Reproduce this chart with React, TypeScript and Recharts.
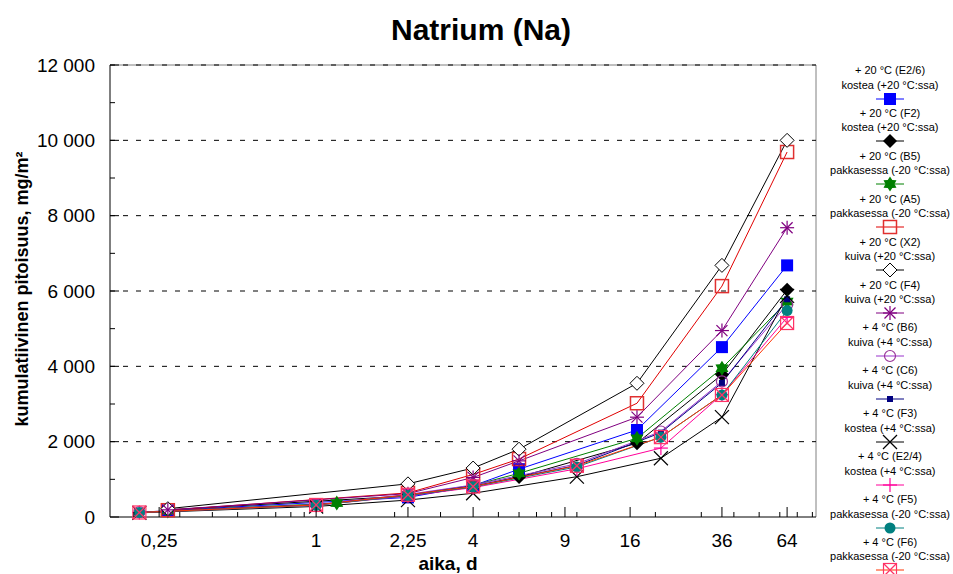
import { LineChart, Line, XAxis, YAxis, ReferenceLine } from "recharts";

// aikapisteet (d)
const timesA = [0.27, 2.25, 4, 6, 17, 36, 64];
const timesB5 = [0.27, 1.2, 2.25, 4, 6, 17, 36, 64];
const timesB = [0.21, 1, 2.25, 4, 10, 21, 36, 64];

// kumulatiivinen pitoisuus, mg/m2
const valE26 = [170, 520, 830, 1270, 2310, 4510, 6680];
const valF2 = [190, 560, 800, 1060, 1960, 3780, 6030];
const valB5 = [160, 370, 580, 840, 1160, 2090, 3950, 5720];
const valA5 = [180, 640, 1130, 1540, 3020, 6130, 9690];
const valX2 = [220, 880, 1300, 1800, 3550, 6680, 10000];
const valF4 = [190, 620, 1050, 1490, 2650, 4950, 7680];
const valB6 = [130, 330, 600, 850, 1410, 2270, 3600, 5640];
const valC6 = [130, 320, 580, 820, 1370, 2240, 3560, 5780];
const valF3 = [110, 280, 450, 630, 1070, 1560, 2650, 5870];
const valE24 = [120, 310, 560, 780, 1280, 1830, 3250, 5300];
const valF5 = [120, 310, 570, 800, 1330, 2120, 3240, 5480];
const valF6 = [120, 320, 590, 810, 1360, 2120, 3240, 5150];

const seriesTitles = [
  "+ 20 °C (E2/6)", "+ 20 °C (F2)", "+ 20 °C (B5)", "+ 20 °C (A5)",
  "+ 20 °C (X2)", "+ 20 °C (F4)", "+ 4 °C (B6)", "+ 4 °C (C6)",
  "+ 4 °C (F3)", "+ 4 °C (E2/4)", "+ 4 °C (F5)", "+ 4 °C (F6)",
];
const seriesConds = [
  "kostea (+20 °C:ssa)", "kostea (+20 °C:ssa)", "pakkasessa (-20 °C:ssa)", "pakkasessa (-20 °C:ssa)",
  "kuiva (+20 °C:ssa)", "kuiva (+20 °C:ssa)", "kuiva (+4 °C:ssa)", "kuiva (+4 °C:ssa)",
  "kostea (+4 °C:ssa)", "kostea (+4 °C:ssa)", "pakkasessa (-20 °C:ssa)", "pakkasessa (-20 °C:ssa)",
];

const xMajor = [0.25, 1, 2.25, 4, 9, 16, 36, 64];
const xMinor = [0.2, 0.3, 0.4, 0.5, 0.6, 0.7, 0.8, 0.9, 2, 3, 5, 6, 7, 8, 10, 20, 30, 40, 50, 60, 70, 80];
const yTicks = [0, 1000, 2000, 3000, 4000, 5000, 6000, 7000, 8000, 9000, 10000, 11000, 12000];
const gridValues = [2000, 4000, 6000, 8000, 10000, 12000];

const X_MIN = 0.162;
const X_MAX = 82.6;

const FONT = "'Liberation Sans', Arial, sans-serif";

const toPoints = (times: number[], vals: number[]) => times.map((t, i) => ({ t, v: vals[i] }));

const series = [
  { data: toPoints(timesA, valE26), color: "#0000ff", mark: "#0000ff", shape: "squareFilled" },
  { data: toPoints(timesA, valF2), color: "#000000", mark: "#000000", shape: "diamondFilled" },
  { data: toPoints(timesB5, valB5), color: "#008000", mark: "#008000", shape: "star" },
  { data: toPoints(timesA, valA5), color: "#e00000", mark: "#e03030", shape: "squareOpen" },
  { data: toPoints(timesA, valX2), color: "#000000", mark: "#000000", shape: "diamondOpen" },
  { data: toPoints(timesA, valF4), color: "#800080", mark: "#800080", shape: "asterisk" },
  { data: toPoints(timesB, valB6), color: "#9933cc", mark: "#993399", shape: "circleOpen" },
  { data: toPoints(timesB, valC6), color: "#000080", mark: "#000080", shape: "smallSquare" },
  { data: toPoints(timesB, valF3), color: "#000000", mark: "#000000", shape: "cross" },
  { data: toPoints(timesB, valE24), color: "#ff0099", mark: "#ff0099", shape: "plus" },
  { data: toPoints(timesB, valF5), color: "#008080", mark: "#008080", shape: "circleFilled" },
  { data: toPoints(timesB, valF6), color: "#ff3300", mark: "#ff3366", shape: "boxX" },
];

const Marker = ({ shape, cx, cy, color }: { shape: string; cx: number; cy: number; color: string }) => {
  switch (shape) {
    case "squareFilled":
      return <rect x={cx - 6} y={cy - 6} width={12} height={12} fill={color} />;
    case "diamondFilled":
      return <polygon points={`${cx},${cy - 7} ${cx + 7},${cy} ${cx},${cy + 7} ${cx - 7},${cy}`} fill={color} />;
    case "diamondOpen":
      return <polygon points={`${cx},${cy - 7} ${cx + 7},${cy} ${cx},${cy + 7} ${cx - 7},${cy}`} fill="#fff" stroke={color} strokeWidth={1} />;
    case "squareOpen":
      return <rect x={cx - 6.5} y={cy - 6.5} width={13} height={13} fill="none" stroke={color} strokeWidth={1.5} />;
    case "star": {
      const pts: string[] = [];
      for (let i = 0; i < 12; i++) {
        const r = i % 2 === 0 ? 7.5 : 4.5;
        const a = (Math.PI / 6) * i - Math.PI / 2;
        pts.push(`${cx + r * Math.cos(a)},${cy + r * Math.sin(a)}`);
      }
      return <polygon points={pts.join(" ")} fill={color} />;
    }
    case "asterisk":
      return (
        <g stroke={color} strokeWidth={1.2}>
          <line x1={cx} y1={cy - 7} x2={cx} y2={cy + 7} />
          <line x1={cx - 7} y1={cy} x2={cx + 7} y2={cy} />
          <line x1={cx - 5.5} y1={cy - 5.5} x2={cx + 5.5} y2={cy + 5.5} />
          <line x1={cx - 5.5} y1={cy + 5.5} x2={cx + 5.5} y2={cy - 5.5} />
        </g>
      );
    case "circleOpen":
      return <circle cx={cx} cy={cy} r={5.5} fill="none" stroke={color} strokeWidth={1.2} />;
    case "smallSquare":
      return <rect x={cx - 3} y={cy - 3} width={6} height={6} fill={color} />;
    case "cross":
      return (
        <g stroke={color} strokeWidth={1.2}>
          <line x1={cx - 7} y1={cy - 7} x2={cx + 7} y2={cy + 7} />
          <line x1={cx - 7} y1={cy + 7} x2={cx + 7} y2={cy - 7} />
        </g>
      );
    case "plus":
      return (
        <g stroke={color} strokeWidth={1.2}>
          <line x1={cx} y1={cy - 7} x2={cx} y2={cy + 7} />
          <line x1={cx - 7} y1={cy} x2={cx + 7} y2={cy} />
        </g>
      );
    case "circleFilled":
      return <circle cx={cx} cy={cy} r={5.5} fill={color} />;
    case "boxX":
      return (
        <g stroke={color} strokeWidth={1.2} fill="none">
          <rect x={cx - 6.5} y={cy - 6.5} width={13} height={13} />
          <line x1={cx - 6.5} y1={cy - 6.5} x2={cx + 6.5} y2={cy + 6.5} />
          <line x1={cx - 6.5} y1={cy + 6.5} x2={cx + 6.5} y2={cy - 6.5} />
        </g>
      );
    default:
      return null;
  }
};

const fmtY = (v: number) => String(v).replace(/\B(?=(\d{3})+(?!\d))/g, " ");

const XTick = (props: any) => {
  const { x, y, payload } = props;
  const major = xMajor.includes(payload.value);
  return (
    <g>
      <line x1={x} x2={x} y1={y} y2={y - (major ? 10 : 5)} stroke="#000" />
      {major && (
        <text x={x} y={y + 23} textAnchor="middle" dominantBaseline="central" fontSize={19} fontFamily={FONT} fill="#000">
          {String(payload.value).replace(".", ",")}
        </text>
      )}
    </g>
  );
};

const YTick = (props: any) => {
  const { x, y, payload } = props;
  const major = payload.value % 2000 === 0;
  return (
    <g>
      <line x1={x} x2={x + (major ? 9 : 5)} y1={y} y2={y} stroke="#000" />
      {major && (
        <text x={x - 15} y={y} textAnchor="end" dominantBaseline="central" fontSize={19} fontFamily={FONT} fill="#000">
          {fmtY(payload.value)}
        </text>
      )}
    </g>
  );
};

const LEGEND_TOP = 70;
const LEGEND_STEP = 42.9;
const LEGEND_CX = 890;

const App = () => {
  return (
    <div style={{ position: "absolute", left: 0, top: 0, width: 953, height: 574, background: "#fff", fontFamily: FONT }}>
      <LineChart width={953} height={574} margin={{ top: 65, right: 137, bottom: 17, left: 10 }}>
        <XAxis
          dataKey="t"
          type="number"
          scale="log"
          domain={[X_MIN, X_MAX]}
          allowDataOverflow
          ticks={[...xMajor, ...xMinor].sort((a, b) => a - b)}
          interval={0}
          tick={<XTick />}
          tickLine={false}
          tickSize={0}
          tickMargin={0}
          height={40}
          axisLine={{ stroke: "#000" }}
        />
        <YAxis
          type="number"
          domain={[0, 12000]}
          ticks={yTicks}
          interval={0}
          tick={<YTick />}
          tickLine={false}
          tickSize={0}
          tickMargin={0}
          width={100}
          axisLine={{ stroke: "#000" }}
        />
        <ReferenceLine y={12000} stroke="#808080" />
        <ReferenceLine x={X_MAX} stroke="#808080" />
        {gridValues.map((g) => (
          <ReferenceLine key={g} y={g} stroke="#000" strokeDasharray="5 8" />
        ))}
        {series.map((s, i) => (
          <Line
            key={i}
            data={s.data}
            dataKey="v"
            type="linear"
            stroke={s.color}
            strokeWidth={1}
            isAnimationActive={false}
            dot={(p: any) => <Marker key={`m-${i}-${p.index}`} shape={s.shape} cx={p.cx} cy={p.cy} color={s.mark} />}
            activeDot={false}
          />
        ))}
      </LineChart>

      <div style={{ position: "absolute", left: 281, width: 400, top: 11, textAlign: "center", fontSize: 30, fontWeight: "bold", lineHeight: "38px" }}>
        Natrium (Na)
      </div>
      <div style={{ position: "absolute", left: 248, width: 400, top: 552, textAlign: "center", fontSize: 19, fontWeight: "bold", lineHeight: "24px" }}>
        aika, d
      </div>
      <div
        style={{
          position: "absolute",
          left: 22 - 200,
          top: 289 - 12,
          width: 400,
          textAlign: "center",
          fontSize: 18,
          fontWeight: "bold",
          lineHeight: "24px",
          transform: "rotate(-90deg)",
          whiteSpace: "nowrap",
        }}
      >
        kumulatiivinen pitoisuus, mg/m²
      </div>

      {series.map((s, i) => {
        const top = LEGEND_TOP + i * LEGEND_STEP;
        return (
          <div key={i}>
            <div style={{ position: "absolute", left: LEGEND_CX - 80, width: 160, top: top - 7, textAlign: "center", fontSize: 11, lineHeight: "14px", whiteSpace: "nowrap" }}>
              {seriesTitles[i]}
            </div>
            <div style={{ position: "absolute", left: LEGEND_CX - 80, width: 160, top: top + 7.5, textAlign: "center", fontSize: 11, lineHeight: "14px", whiteSpace: "nowrap" }}>
              {seriesConds[i]}
            </div>
            <svg style={{ position: "absolute", left: LEGEND_CX - 20, top: top + 20.5 }} width={40} height={16}>
              <line x1={6} x2={34} y1={8} y2={8} stroke={s.color} strokeWidth={1} />
              <Marker shape={s.shape} cx={20} cy={8} color={s.mark} />
            </svg>
          </div>
        );
      })}
    </div>
  );
};

export default App;
